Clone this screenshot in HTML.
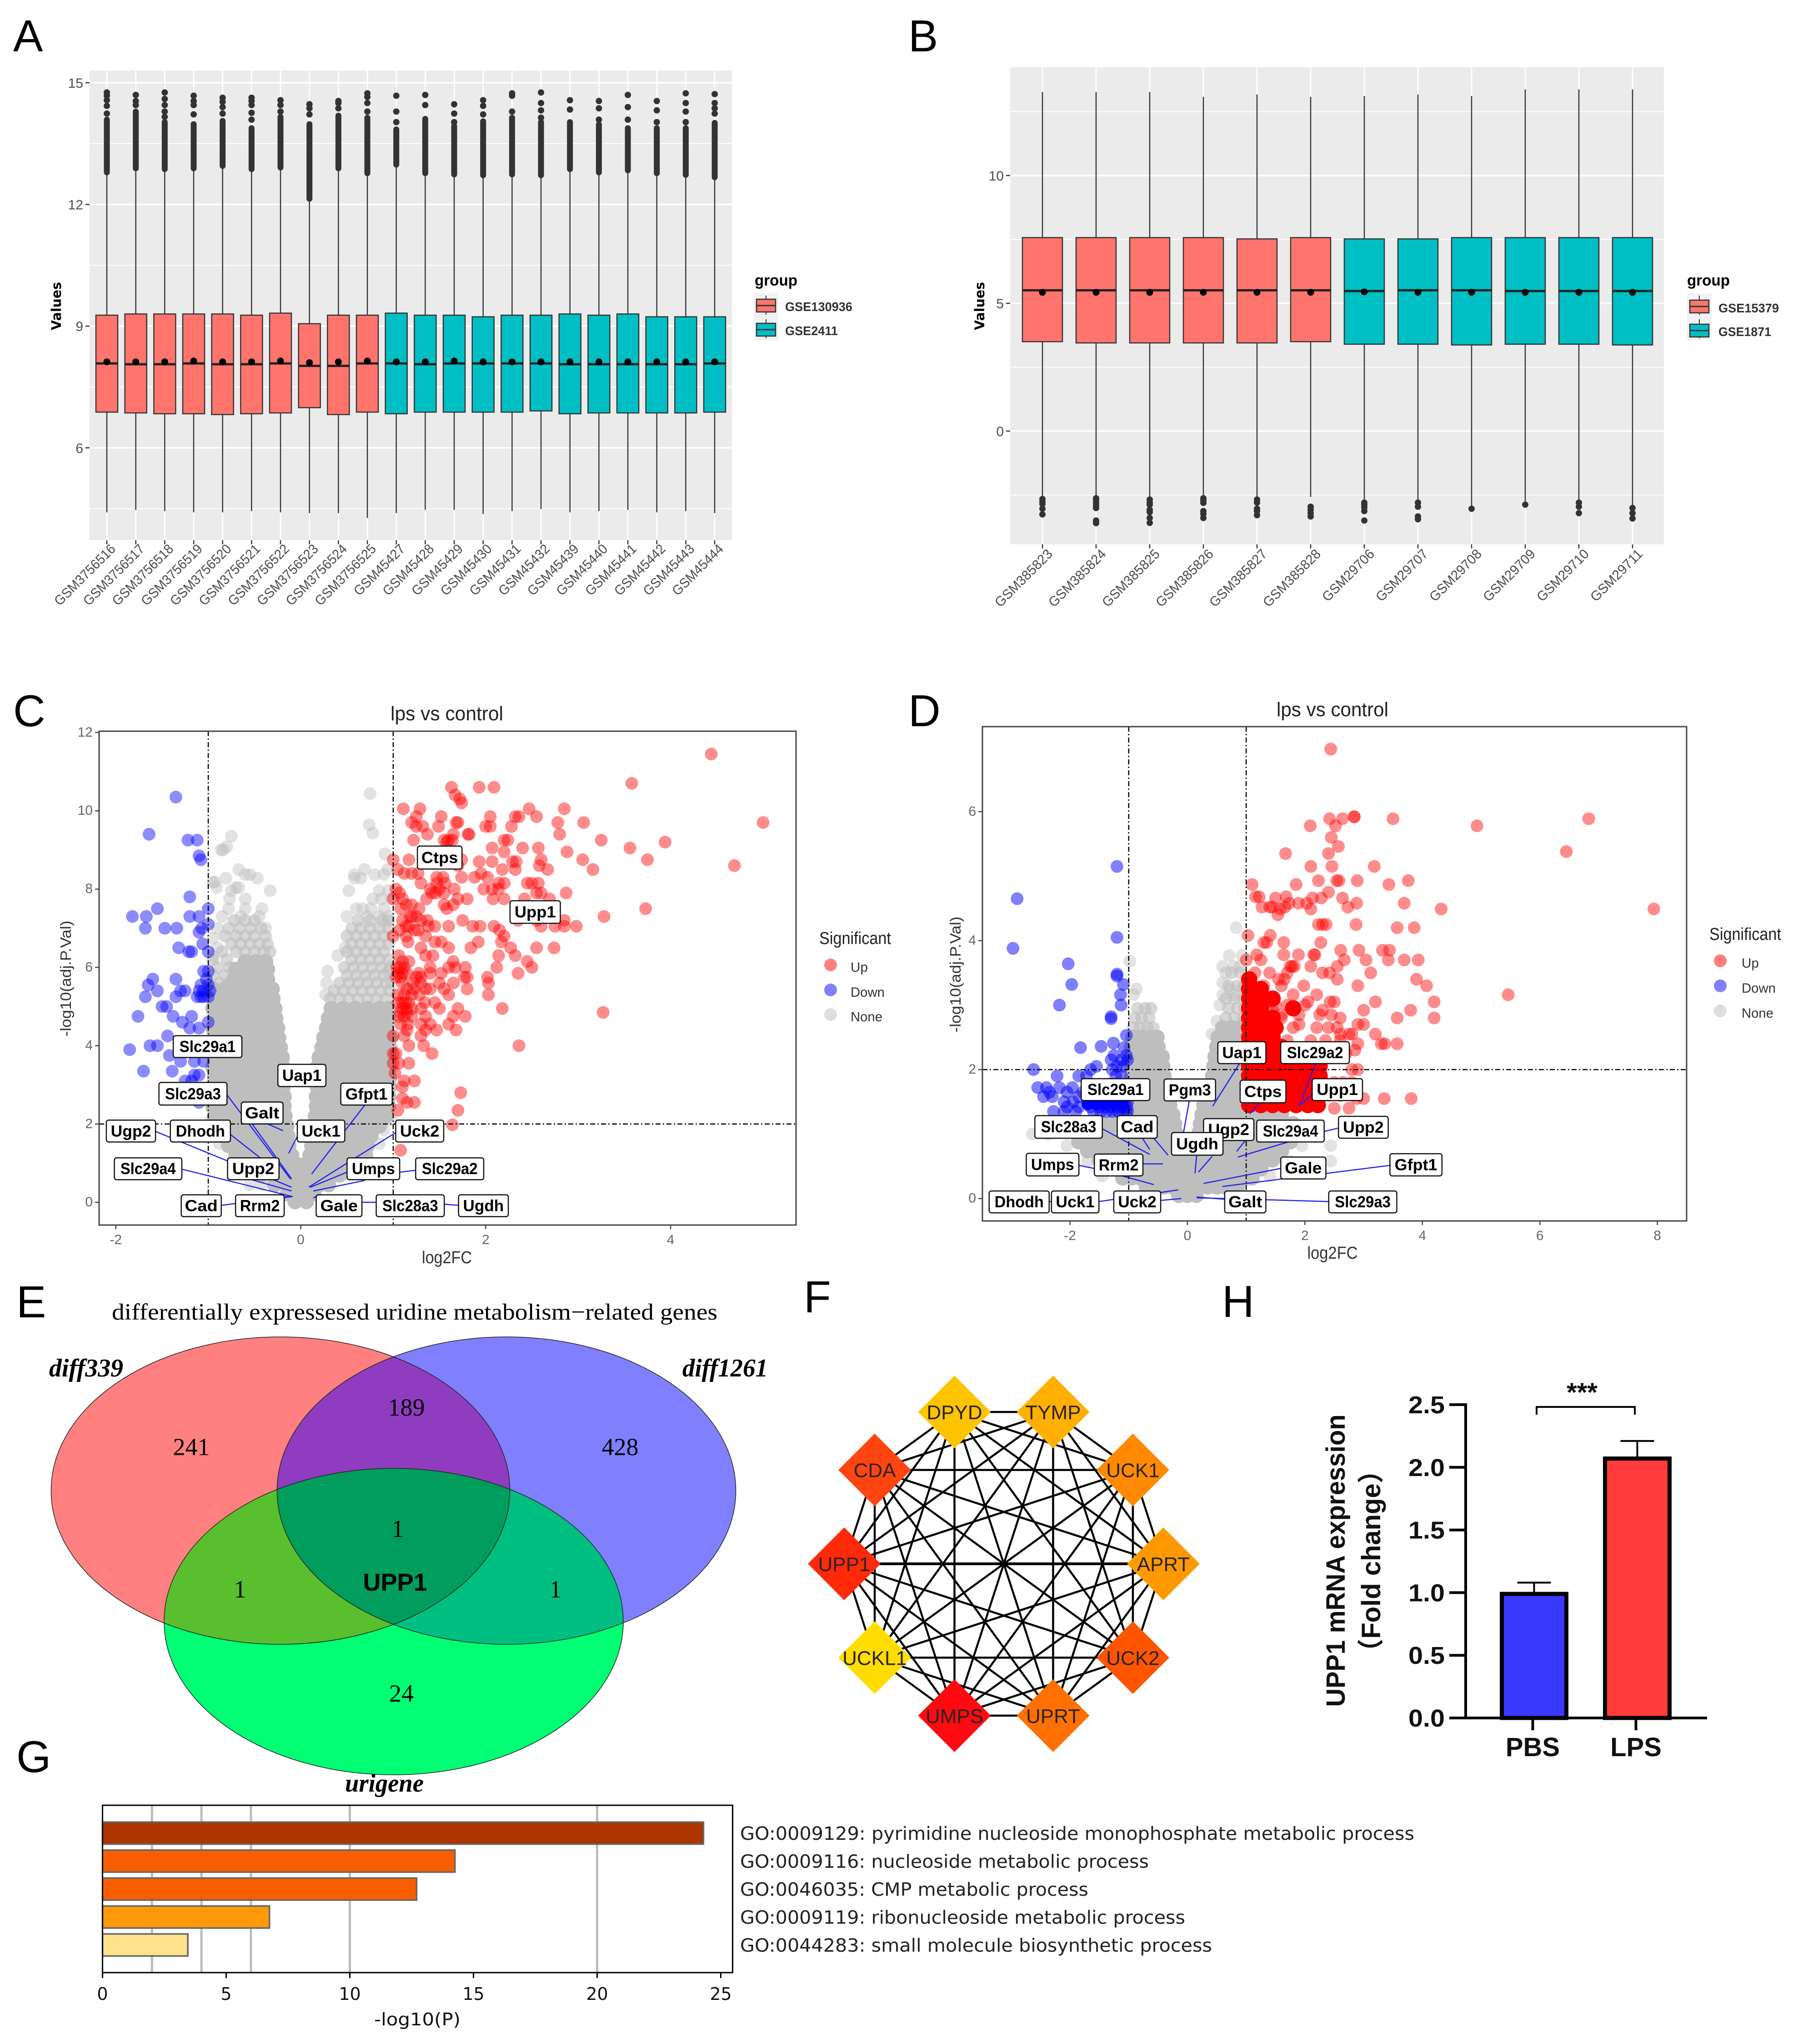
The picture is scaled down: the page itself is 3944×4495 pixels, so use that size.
<!DOCTYPE html>
<html lang="en">
<head>
<meta charset="utf-8">
<title>Uridine metabolism figure panels</title>
<style>
html,body{margin:0;padding:0;background:#fff}
svg{display:block}
text{font-family:"Liberation Sans",sans-serif}
.serif{font-family:"Liberation Serif",serif}
.dj{font-family:"DejaVu Sans",sans-serif}
.letter{font-size:98px;fill:#000}
.leg{fill:#333;font-size:30px}
</style>
</head>
<body>
<svg id="fig" width="3944" height="4495" viewBox="0 0 3944 4495">
<rect width="3944" height="4495" fill="#fff"/>
<text class="letter" x="29" y="113">A</text>
<text class="letter" x="1998" y="113">B</text>
<text class="letter" x="29" y="1597">C</text>
<text class="letter" x="1998" y="1597">D</text>
<text class="letter" x="36" y="2897">E</text>
<text class="letter" x="1768" y="2886">F</text>
<text class="letter" x="36" y="3897">G</text>
<text class="letter" x="2688" y="2896">H</text>

<g id="panelA"></g>
<g id="panelB"></g>
<g id="panelC"></g>
<g id="panelD"></g>

<!-- legends and axis titles A / B -->
<text class="dj" transform="translate(134,673) rotate(-90)" text-anchor="middle" font-size="29" font-weight="bold" textLength="106" lengthAdjust="spacingAndGlyphs">Values</text>
<text class="dj" transform="translate(2165,673) rotate(-90)" text-anchor="middle" font-size="29" font-weight="bold" textLength="106" lengthAdjust="spacingAndGlyphs">Values</text>
<g>
<text x="1660" y="628" font-size="34" font-weight="bold" textLength="94" lengthAdjust="spacingAndGlyphs">group</text>
<rect x="1658" y="645" width="54" height="104" fill="#f2f2f2"/>
<path d="M1685 650V692M1685 702V744" stroke="#333" stroke-width="2"/>
<rect x="1664" y="658" width="42" height="28" fill="#f8766d" stroke="#333" stroke-width="2.5"/>
<rect x="1664" y="711" width="42" height="28" fill="#00bfc4" stroke="#333" stroke-width="2.5"/>
<path d="M1664 672H1706M1664 725H1706" stroke="#333" stroke-width="3"/>
<text x="1727" y="684" font-size="28" font-weight="bold" fill="#333" textLength="148" lengthAdjust="spacingAndGlyphs">GSE130936</text>
<text x="1727" y="737" font-size="28" font-weight="bold" fill="#333" textLength="116" lengthAdjust="spacingAndGlyphs">GSE2411</text>
</g>
<g>
<text x="3711" y="628" font-size="34" font-weight="bold" textLength="94" lengthAdjust="spacingAndGlyphs">group</text>
<rect x="3711" y="645" width="54" height="104" fill="#f2f2f2"/>
<path d="M3738 650V692M3738 702V744" stroke="#333" stroke-width="2"/>
<rect x="3717" y="660" width="42" height="28" fill="#f8766d" stroke="#333" stroke-width="2.5"/>
<rect x="3717" y="713" width="42" height="28" fill="#00bfc4" stroke="#333" stroke-width="2.5"/>
<path d="M3717 674H3759M3717 727H3759" stroke="#333" stroke-width="3"/>
<text x="3780" y="687" font-size="28" font-weight="bold" fill="#333" textLength="133" lengthAdjust="spacingAndGlyphs">GSE15379</text>
<text x="3780" y="739" font-size="28" font-weight="bold" fill="#333" textLength="116" lengthAdjust="spacingAndGlyphs">GSE1871</text>
</g>

<!-- volcano titles & legends -->
<text x="983" y="1584" text-anchor="middle" font-size="44" fill="#222" textLength="248" lengthAdjust="spacingAndGlyphs">lps vs control</text>
<text x="983" y="2778" text-anchor="middle" font-size="38" fill="#333" textLength="110" lengthAdjust="spacingAndGlyphs">log2FC</text>
<text transform="translate(156,2152) rotate(-90)" text-anchor="middle" font-size="33" fill="#333" textLength="255" lengthAdjust="spacingAndGlyphs">-log10(adj.P.Val)</text>
<text x="2931" y="1575" text-anchor="middle" font-size="44" fill="#222" textLength="246" lengthAdjust="spacingAndGlyphs">lps vs control</text>
<text x="2931" y="2768" text-anchor="middle" font-size="38" fill="#333" textLength="111" lengthAdjust="spacingAndGlyphs">log2FC</text>
<text transform="translate(2113,2143) rotate(-90)" text-anchor="middle" font-size="33" fill="#333" textLength="255" lengthAdjust="spacingAndGlyphs">-log10(adj.P.Val)</text>
<g>
<text x="1802" y="2076" font-size="38" fill="#222" textLength="158" lengthAdjust="spacingAndGlyphs">Significant</text>
<circle cx="1827" cy="2122" r="14" fill="#ff0000" opacity=".5"/>
<circle cx="1827" cy="2177" r="14" fill="#0000ff" opacity=".5"/>
<circle cx="1827" cy="2231" r="14" fill="#bebebe" opacity=".5"/>
<text x="1871" y="2137" class="leg" textLength="38" lengthAdjust="spacingAndGlyphs">Up</text>
<text x="1871" y="2192" class="leg" textLength="75" lengthAdjust="spacingAndGlyphs">Down</text>
<text x="1871" y="2246" class="leg" textLength="70" lengthAdjust="spacingAndGlyphs">None</text>
</g>
<g>
<text x="3760" y="2067" font-size="38" fill="#222" textLength="158" lengthAdjust="spacingAndGlyphs">Significant</text>
<circle cx="3784" cy="2113" r="14" fill="#ff0000" opacity=".5"/>
<circle cx="3784" cy="2168" r="14" fill="#0000ff" opacity=".5"/>
<circle cx="3784" cy="2223" r="14" fill="#bebebe" opacity=".5"/>
<text x="3831" y="2128" class="leg" textLength="38" lengthAdjust="spacingAndGlyphs">Up</text>
<text x="3831" y="2183" class="leg" textLength="75" lengthAdjust="spacingAndGlyphs">Down</text>
<text x="3831" y="2238" class="leg" textLength="70" lengthAdjust="spacingAndGlyphs">None</text>
</g>

<!-- Venn E -->
<defs>
<clipPath id="clipL"><ellipse cx="617" cy="3278" rx="504.6" ry="338"/></clipPath>
<clipPath id="clipR"><ellipse cx="1114" cy="3278" rx="504.6" ry="338"/></clipPath>
<clipPath id="clipB"><ellipse cx="866" cy="3566" rx="505" ry="337"/></clipPath>
</defs>
<g>
<text class="serif" x="912" y="2902" text-anchor="middle" font-size="51" textLength="1332" lengthAdjust="spacingAndGlyphs">differentially expressesed uridine metabolism−related genes</text>
<ellipse cx="617" cy="3278" rx="504.6" ry="338" fill="#ff8080"/>
<ellipse cx="1114" cy="3278" rx="504.6" ry="338" fill="#8080ff"/>
<ellipse cx="866" cy="3566" rx="505" ry="337" fill="#00ff73"/>
<g clip-path="url(#clipL)"><ellipse cx="1114" cy="3278" rx="504.6" ry="338" fill="#903cc0"/></g>
<g clip-path="url(#clipL)"><ellipse cx="866" cy="3566" rx="505" ry="337" fill="#5abf2f"/></g>
<g clip-path="url(#clipR)"><ellipse cx="866" cy="3566" rx="505" ry="337" fill="#00bf80"/></g>
<g clip-path="url(#clipL)"><g clip-path="url(#clipR)"><ellipse cx="866" cy="3566" rx="505" ry="337" fill="#009d5c"/></g></g>
<g fill="none" stroke="#222" stroke-width="1.5">
<ellipse cx="617" cy="3278" rx="504.6" ry="338"/>
<ellipse cx="1114" cy="3278" rx="504.6" ry="338"/>
<ellipse cx="866" cy="3566" rx="505" ry="337"/>
</g>
<g class="serif" font-size="54" text-anchor="middle">
<text class="serif" x="421" y="3200">241</text>
<text class="serif" x="894" y="3113">189</text>
<text class="serif" x="1364" y="3200">428</text>
<text class="serif" x="875" y="3380">1</text>
<text class="serif" x="528" y="3513">1</text>
<text class="serif" x="1222" y="3513">1</text>
<text class="serif" x="883" y="3742">24</text>
</g>
<text x="869" y="3498" text-anchor="middle" font-size="54" font-weight="bold">UPP1</text>
<text class="serif" x="108" y="3027" font-size="56" font-weight="bold" font-style="italic" textLength="163" lengthAdjust="spacingAndGlyphs">diff339</text>
<text class="serif" x="1501" y="3027" font-size="56" font-weight="bold" font-style="italic" textLength="188" lengthAdjust="spacingAndGlyphs">diff1261</text>
<text class="serif" x="759" y="3940" font-size="56" font-weight="bold" font-style="italic" textLength="173" lengthAdjust="spacingAndGlyphs">urigene</text>
</g>

<g id="panelF"></g>
<g id="panelG"></g>
<g id="panelH"></g>
</svg>

<script>
/* ---------- panel A data ---------- */
const samplesA = ['GSM3756516','GSM3756517','GSM3756518','GSM3756519','GSM3756520','GSM3756521','GSM3756522','GSM3756523','GSM3756524','GSM3756525','GSM45427','GSM45428','GSM45429','GSM45430','GSM45431','GSM45432','GSM45439','GSM45440','GSM45441','GSM45442','GSM45443','GSM45444'];
const groupA = [0,0,0,0,0,0,0,0,0,0,1,1,1,1,1,1,1,1,1,1,1,1];
const q3A = [9.27,9.30,9.30,9.30,9.30,9.27,9.32,9.06,9.27,9.27,9.32,9.27,9.27,9.23,9.27,9.27,9.30,9.27,9.30,9.23,9.23,9.23];
const q1A = [6.88,6.86,6.84,6.84,6.82,6.84,6.86,6.99,6.82,6.88,6.84,6.88,6.88,6.88,6.88,6.91,6.84,6.86,6.86,6.86,6.86,6.88];
const medianA = [8.08,8.06,8.06,8.08,8.06,8.06,8.08,8.02,8.02,8.08,8.08,8.06,8.08,8.08,8.08,8.08,8.06,8.06,8.06,8.06,8.06,8.08];
const meanA = [8.12,8.12,8.12,8.14,8.12,8.12,8.14,8.10,8.12,8.14,8.12,8.12,8.14,8.12,8.12,8.12,8.12,8.12,8.12,8.12,8.12,8.12];
const whiskerHighA = [12.79,12.89,12.87,12.89,12.95,12.87,12.91,12.14,12.89,12.77,12.98,12.77,12.74,12.72,12.74,12.72,12.87,12.79,12.84,12.77,12.73,12.67];
const whiskerLowA = [4.41,4.47,4.44,4.41,4.41,4.44,4.41,4.39,4.39,4.27,4.39,4.47,4.47,4.37,4.44,4.49,4.41,4.44,4.47,4.41,4.44,4.39];
const outlierDenseTopA = [14.09,14.29,14.03,13.98,14.06,13.88,14.16,13.98,14.19,14.14,13.85,14.11,13.93,14.05,14.14,14.03,14.03,13.97,13.88,13.88,13.88,14.01];
const outliersA = [[14.24,14.43,14.57,14.68,14.76],[14.45,14.55,14.70],[14.16,14.29,14.45,14.60,14.76],[14.22,14.45,14.55,14.68],[14.24,14.40,14.53,14.63],[14.09,14.26,14.45,14.55,14.63],[14.29,14.45,14.57],[14.22,14.37,14.47],[14.37,14.50,14.55],[14.29,14.50,14.65,14.74],[14.03,14.29,14.68],[14.45,14.70],[14.03,14.24,14.47],[14.22,14.43,14.57],[14.29,14.68,14.74],[14.14,14.32,14.50,14.76],[14.34,14.57],[14.09,14.37,14.55],[14.09,14.40,14.70],[14.03,14.32,14.55],[14.03,14.29,14.50,14.74],[14.24,14.37,14.50,14.72]];
const ticksA = [6,9,12,15];
const minorTicksA = [4.5,7.5,10.5,13.5];

/* ---------- panel B data ---------- */
const samplesB = ['GSM385823','GSM385824','GSM385825','GSM385826','GSM385827','GSM385828','GSM29706','GSM29707','GSM29708','GSM29709','GSM29710','GSM29711'];
const groupB = [0,0,0,0,0,0,1,1,1,1,1,1];
const q3B = [7.57,7.57,7.57,7.57,7.52,7.57,7.52,7.52,7.57,7.57,7.57,7.57];
const q1B = [3.50,3.45,3.45,3.45,3.45,3.50,3.40,3.40,3.37,3.40,3.40,3.37];
const medianB = [5.51,5.51,5.51,5.51,5.51,5.51,5.48,5.51,5.51,5.48,5.48,5.48];
const meanB = [5.43,5.43,5.43,5.43,5.43,5.43,5.45,5.43,5.43,5.43,5.43,5.43];
const whiskerHighB = [13.27,13.27,13.27,13.08,13.17,13.08,13.11,13.17,13.11,13.37,13.37,13.37];
const whiskerLowB = [-2.58,-2.55,-2.60,-2.55,-2.58,-2.58,-2.71,-2.68,-2.96,-2.80,-2.68,-2.91];
const outliersB = [[-2.66,-2.76,-2.85,-3.04,-3.26],[-2.63,-2.71,-2.81,-2.91,-3.01,-3.50,-3.60],[-2.68,-2.80,-2.88,-3.08,-3.17,-3.40,-3.59],[-2.63,-2.71,-2.81,-3.13,-3.24,-3.40],[-2.68,-2.80,-3.04,-3.13,-3.29],[-2.96,-3.08,-3.21,-3.34],[-2.80,-2.88,-2.99,-3.13,-3.50],[-2.80,-2.96,-3.34,-3.45],[-3.04],[-2.88],[-2.80,-2.96,-3.21],[-3.01,-3.21,-3.42]];
const ticksB = [0,5,10];
const minorTicksB = [-2.5,2.5,7.5,12.5];

/* ---------- panel C data: rows of [y, [x, x, ...]] ---------- */
const upC = [[11.45,[4.44]],[10.7,[3.58]],[10.6,[1.63,1.93,2.09]],[10.4,[1.67]],[10.3,[1.72]],[10.2,[1.74]],[10.05,[1.11,1.29,2.47,2.85]],[9.85,[1.25,1.52,2.05,2.32,2.36,2.55]],[9.7,[1.7,1.2,2.78,3.06,5.0,1.68]],[9.6,[1.25,1.32,1.49,2.0,2.05,2.28]],[9.4,[1.37,1.82,1.81,2.8,1.65]],[9.25,[1.22,1.55,1.6,1.64,2.2,2.24,3.25]],[9.2,[3.94,1.58]],[9.05,[2.07,3.56,2.4,2.57]],[8.95,[2.2,2.88]],[8.75,[1.0,1.17,1.74,3.05,2.6,3.75]],[8.7,[1.35,1.93,2.07,2.29,2.33]],[8.6,[2.58,1.7,4.69]],[8.5,[2.18,2.67,3.16,1.05,2.32]],[8.4,[1.12,1.2,1.27,1.95]],[8.3,[1.54,1.74,1.88,2.02,1.47]],[8.15,[2.2,2.45,2.5,2.57,1.3,1.47,1.56,2.14]],[8.0,[1.03,1.4,1.5,1.66,1.98,2.07,2.14]],[7.9,[1.07,1.42,1.46,2.87,1.55,2.55,2.6]],[7.75,[1.0,1.1,1.36,1.8,2.08,2.2,2.42,2.69,1.7]],[7.6,[1.14,1.55,1.65,1.2]],[7.5,[1.28,1.58,3.73,1.08]],[7.3,[1.2,1.18,1.25,3.28]],[7.2,[1.1,1.3,1.37,1.75,2.35,2.55,2.85]],[7.05,[1.14,1.17,1.38,1.45,1.6,1.86,1.94,2.09,2.6,2.75,2.85,2.98]],[6.95,[1.07,1.23,1.27,2.15]],[6.8,[1.0,1.35,1.14,2.2]],[6.65,[1.16,1.45,1.52,1.92,2.17]],[6.5,[1.3,1.6,1.84,2.27,2.55,2.74]],[6.3,[1.06,1.35,1.43,2.14,2.32]],[6.15,[1.1,1.17,1.65,2.45]],[6.0,[1.07,1.12,1.04,1.4,1.6,1.67,1.78,2.12,2.5]],[5.85,[1.05,1.1,1.15,1.28,1.4,2.35,1.52]],[5.75,[1.03,1.08,1.25,1.3,1.77,1.8,2.02]],[5.6,[1.1,1.22,1.3,1.5,1.65,2.03]],[5.45,[1.15,1.22,1.35,1.4,1.55,1.8]],[5.3,[1.12,1.2,1.05,1.28,1.6,2.03]],[5.1,[1.05,1.1,1.17,1.13,1.34,1.45]],[4.95,[1.1,1.14,1.2,1.3,1.5,1.7,2.18]],[4.85,[3.27,1.08,1.15]],[4.75,[1.06,1.12,1.2,1.35,1.65,1.78]],[4.55,[1.08,1.16,1.3,1.4,1.6]],[4.4,[1.15,1.35,1.47,1.68]],[4.25,[1.0,1.12,1.3]],[4.0,[1.17,1.33,2.36]],[3.8,[1.0,1.03,1.42]],[3.55,[1.0,1.06,1.17]],[3.3,[1.02]],[3.1,[1.12,1.23]],[2.95,[1.1]],[2.8,[1.73]],[2.65,[1.1]],[2.55,[1.15,1.23]],[2.35,[1.05,1.7]],[1.98,[1.64]],[1.33,[1.08]]];
const downC = [[10.35,[-1.35]],[9.4,[-1.64]],[9.25,[-1.22,-1.12]],[8.85,[-1.1]],[8.75,[-1.08]],[7.8,[-1.2]],[7.5,[-1.55,-1.0]],[7.3,[-1.82,-1.67,-1.2,-1.1]],[7.1,[-1.0]],[7.0,[-1.34,-1.07,-1.68,-1.47]],[6.9,[-1.1]],[6.6,[-1.06]],[6.5,[-1.32]],[6.4,[-1.21,-1.18,-1.0]],[5.9,[-1.05,-1.0]],[5.7,[-1.6,-1.02,-1.35]],[5.55,[-1.65,-1.08,-1.0]],[5.4,[-1.55,-1.3,-1.25,-1.1,-1.05,-.98]],[5.25,[-1.68,-1.35,-1.12,-1.0,-1.05,-1.08]],[5.0,[-1.5,-1.45]],[4.75,[-1.76,-1.38,-1.18]],[4.6,[-1.0,-1.28]],[4.45,[-1.2,-1.1]],[4.25,[-1.44]],[4.0,[-1.63,-1.55]],[3.9,[-1.85]],[3.75,[-1.42]],[3.6,[-1.3,-1.15,-1.05]],[3.35,[-1.7,-1.39]],[3.25,[-1.15,-1.1]],[3.1,[-1.25,-1.18]],[2.9,[-1.1]],[2.55,[-1.1]]];
const noneCoreC = [[.02,[-.06,.06]],[.22,[-.14,0,.14]],[.45,[-.28,-.16,-.04,.08,.2,.3]],[.7,[-.42,-.3,-.18,-.06,.06,.18,.3,.42]],[.95,[-.6,-.48,-.36,-.24,-.12,-.02,.06,.18,.3,.42,.54,.62]],[1.2,[-.7,-.57,-.44,-.31,-.18,-.1,.1,.2,.33,.46,.59,.7]],[1.45,[-.78,-.65,-.52,-.39,-.26,-.13,.12,.24,.37,.5,.63,.72]],[1.7,[-.84,-.71,-.58,-.45,-.32,-.19,-.14,.13,.25,.38,.51,.64,.76]],[1.95,[-.9,-.77,-.64,-.51,-.38,-.25,-.15,.14,.27,.4,.53,.66,.79,.85]],[2.2,[-.93,-.8,-.67,-.54,-.41,-.28,-.17,.16,.29,.42,.55,.68,.81,.92]],[2.45,[-.95,-.82,-.69,-.56,-.43,-.3,-.18,.17,.3,.43,.56,.69,.82,.95]],[2.7,[-.93,-.8,-.67,-.54,-.41,-.28,-.18,.17,.3,.43,.56,.69,.82,.95]],[2.95,[-.95,-.82,-.69,-.56,-.43,-.3,-.19,.18,.31,.44,.57,.7,.83,.96]],[3.2,[-.93,-.8,-.67,-.54,-.41,-.28,-.19,.18,.31,.44,.57,.7,.83,.96]],[3.45,[-.95,-.82,-.69,-.56,-.43,-.3,-.19,.18,.31,.44,.57,.7,.83,.96]],[3.7,[-.93,-.8,-.67,-.54,-.41,-.3,-.2,.2,.33,.46,.59,.72,.85,.96]],[3.95,[-.95,-.82,-.69,-.56,-.43,-.32,-.22,.23,.36,.49,.62,.75,.88,.96]],[4.2,[-.93,-.8,-.67,-.54,-.41,-.32,-.24,.25,.38,.51,.64,.77,.9,.97]],[4.45,[-.95,-.82,-.69,-.56,-.43,-.33,-.25,.28,.41,.54,.67,.8,.93]],[4.7,[-.93,-.8,-.67,-.54,-.41,-.33,-.27,.3,.43,.56,.69,.82,.95]],[4.95,[-.95,-.82,-.69,-.56,-.43,-.35,-.28,.33,.46,.59,.72,.85,.95]],[5.2,[-.93,-.8,-.67,-.54,-.41,-.3]],[5.45,[-.95,-.82,-.69,-.56,-.43,-.31]],[5.7,[-.72,-.6,-.48,-.36]],[5.95,[-.7,-.58,-.46,-.36]],[6.15,[-.6,-.48,-.38]]];
const noneMidC = [[7.2,[-.72,-.6,-.5,.62,.75,.88,.95]],[7.0,[-.78,-.66,-.54,-.43,.55,.65,.75,.85,.95]],[6.8,[-.82,-.7,-.6,-.5,-.38,.5,.6,.7,.8,.9]],[6.6,[-.75,-.65,-.55,-.45,-.36,.55,.65,.75,.85,.95]],[6.4,[-.85,-.7,-.6,-.5,-.4,-.33,.5,.6,.7,.8,.9]],[6.2,[-.95,-.8,.55,.65,.75,.85,.95]],[6.0,[-.9,-.77,.47,.57,.67,.77,.87,.97]],[5.8,[-.95,-.82,.5,.6,.7,.8,.9]],[5.6,[-.88,-.78,.42,.52,.62,.72,.82,.92]],[5.4,[.36,.46,.56,.66,.76,.86,.96]],[5.2,[.32,.42,.52,.62,.72,.82,.92]]];
const noneC = [[10.44,[.75]],[9.64,[.74]],[9.43,[.78]],[9.35,[-.75]],[9.08,[-.8]],[9,[-.86,-.84]],[8.9,[.91]],[8.5,[-.67,.69,.94]],[8.37,[-.55,-.6,.58,.8,.9]],[8.28,[-.47,-.81,.58,.65]],[8.18,[-.93,-.95]],[8.04,[-.91,-.7,-.67]],[7.96,[-.33,.52,-.75,.85,.95]],[7.75,[-.77,-.6,.87,.78,.98]],[7.5,[-.6,-.78,-.42,.6,.67,.76,.9]],[7.3,[-.65,-.85,-.45,.5,.72,.85,.95]],[7,[-.9,-.38]],[6.75,[-.95]],[6.5,[-.9,.48]],[6.3,[-.95,.4]],[5.9,[.29,.95]],[5.6,[.28,.98]],[5.3,[.27]],[2.35,[.8,.9]],[2.1,[-.97,.7,.98]],[1.85,[.78,.9,-.92]],[1.5,[.85,-.88]],[.75,[-.68,-.5]],[.45,[-.42,-.55]]];
const ticksXC = [-2,0,2,4];
const ticksYC = [0,2,4,6,8,10,12];

/* ---------- panel D data ---------- */
const upD = [[6.97,[2.44]],[5.92,[2.84,2.84]],[5.89,[2.64,3.5,6.83,2.42]],[5.78,[4.93,2.09,2.52]],[5.6,[2.45]],[5.46,[2.57]],[5.38,[6.45]],[5.35,[1.67,2.4]],[5.15,[2.1,2.46,3.18]],[4.93,[2.54,2.58,2.23,2.89,3.76]],[4.87,[3.43,1.1,1.85]],[4.75,[2.4]],[4.68,[1.68,1.16,1.22]],[4.66,[2.64,2.28,2.13,1.5]],[4.58,[3.69,2.88,1.73,1.89,2.03]],[4.52,[1.27,1.4,1.45,2.73,1.66]],[4.49,[4.32,7.94,1.58,2.1]],[4.4,[1.54]],[4.25,[2.23,2.3,2.36,2.87]],[4.2,[3.57,3.86]],[4.08,[1.03,1.41]],[3.97,[1.35,1.3,1.64,2.27]],[3.85,[3.32,3.44,2.61,2.92]],[3.78,[1.89,2.17,2.15,1.64,1.18]],[3.7,[1.25,1.0,3.42,3.69,3.93,3.04,2.67]],[3.6,[1.82,1.78,1.75,2.55,2.1]],[3.5,[3.12,1.7,2.3,2.42,1.15,1.4]],[3.4,[3.9,2.55,1.55,1.65]],[3.3,[4.07,2.9,1.98,1.3,1.6]],[3.16,[5.46,1.27,1.08,2.2,1.8]],[3.05,[2.43,2.5,3.2,4.2,2.05]],[3.0,[1.1,1.3,1.5,1.7,2.0]],[2.92,[3.0,3.8,1.45,2.3]],[2.85,[1.2,1.6,1.9,2.25,2.45]],[2.8,[4.2,3.57,1.6,2.6]],[2.7,[2.9,3.0,1.9]],[2.65,[1.1,1.4,1.8,2.2,2.4,2.55]],[2.55,[3.2,2.8,2.75,2.6,1.4]],[2.45,[1.3,1.7,2.1,2.35,2.6]],[2.4,[3.36,3.57,3.3,2.9]],[2.3,[2.85]],[2.25,[1.2,1.5,2.0,2.4,2.7]],[2.0,[2.8,2.9]],[1.8,[2.5,2.65,2.8]],[1.6,[2.4,2.6]],[1.55,[3.35,3.81,3.0,2.88]],[1.4,[2.75,2.5]]];
const upCoreD = [[1.45,[1.05,1.25,1.45,1.65,1.85,2.05,2.22]],[1.6,[1.05,1.25,1.45,1.65,1.85,2.05,2.25]],[1.75,[1.05,1.25,1.45,1.65,1.85,2.05,2.25]],[1.9,[1.05,1.25,1.45,1.65,1.85,2.05,2.25]],[2.05,[1.05,1.25,1.45,1.65,1.85,2.05,2.25]],[2.2,[1.05,1.25,1.45,1.65,2.05]],[2.35,[1.05,1.25,1.45,1.6]],[2.5,[1.05,1.25,1.45]],[2.65,[1.05,1.25,1.5]],[2.8,[1.05,1.25,1.45]],[2.95,[1.05,1.25,1.8]],[3.1,[1.05,1.2,1.45]],[3.25,[1.05,1.25]],[3.4,[1.05]]];
const downD = [[5.15,[-1.2]],[4.65,[-2.9]],[4.05,[-1.2]],[3.88,[-2.97]],[3.64,[-2.03]],[3.48,[-1.2]],[3.45,[-1.2]],[3.32,[-1.97,-1.09]],[3.16,[-1.14]],[3.0,[-2.18,-1.13]],[2.82,[-1.3]],[2.79,[-1.3]],[2.53,[-1.04]],[2.41,[-1.26]],[2.36,[-1.47]],[2.34,[-1.82,-1.08]],[2.22,[-1.25,-1.04]],[2.15,[-1.12,-1.3,-1.02]],[2.05,[-1.55,-1.1,-1.2]],[2.0,[-2.62,-1.65,-1.28]],[1.9,[-2.22,-1.72,-1.85,-1.22,-1.12]],[1.72,[-2.55,-2.4,-2.18,-1.96,-1.12,-1.05]],[1.65,[-2.35,-2.05,-1.78,-1.55,-1.35,-1.2,-1.08]],[1.58,[-2.3,-2.45,-1.85,-1.62,-1.48,-1.28,-1.15,-1.03]],[1.5,[-2.1,-1.95,-1.7,-1.55,-1.42,-1.3,-1.2,-1.1,-1.02]],[1.42,[-2.05,-1.85,-1.65,-1.5,-1.4,-1.3,-1.2,-1.1,-1.03]],[1.35,[-2.28,-2.1,-1.9,-1.6,-1.48,-1.38,-1.28,-1.18,-1.08,-1.02]]];
const downCoreD = [[1.46,[-1.1,-1.25,-1.4,-1.55,-1.7]]];
const noneCoreD = [[.05,[-.15,0,.15]],[.18,[-.7,-.55,-.4,-.25,-.1,.05,.2,.35,.5,.65,.85]],[.32,[-1.1,-.95,-.8,-.65,-.5,-.35,-.2,-.05,.1,.25,.4,.55,.7,.85,1.0,1.1]],[.46,[-1.3,-1.15,-1.0,-.85,-.7,-.55,-.4,-.25,-.1,.05,.2,.35,.5,.65,.8,.95,1.1,1.25]],[.6,[-1.5,-1.35,-1.2,-1.05,-.9,-.75,-.6,-.45,-.3,-.15,0,.15,.3,.45,.6,.75,.9,1.05,1.2,1.35,1.45]],[.74,[-1.7,-1.55,-1.4,-1.25,-1.1,-.95,-.8,-.65,-.5,-.35,-.18,.18,.35,.5,.65,.8,.95,1.1,1.25,1.4,1.6]],[.88,[-1.85,-1.7,-1.55,-1.4,-1.25,-1.1,-.95,-.8,-.65,-.5,-.35,-.18,.18,.35,.5,.65,.8,.95,1.1,1.25,1.4,1.55,1.75]],[1.02,[-1.9,-1.75,-1.6,-1.45,-1.3,-1.15,-1.0,-.85,-.7,-.55,-.4,-.2,.2,.4,.55,.7,.85,1.0,1.15,1.3,1.45,1.6,1.75,1.9]],[1.16,[-1.6,-1.45,-1.3,-1.15,-1.0,-.85,-.7,-.55,-.4,-.22,.22,.4,.55,.7,.85,1.0,1.15,1.3,1.45,1.6,1.8]],[1.3,[-1.2,-1.05,-.9,-.75,-.6,-.45,-.25,.25,.45,.6,.75,.9,1.05,1.2,1.4,1.6]],[1.45,[-.95,-.8,-.65,-.5,-.3,.28,.45,.6,.75,.9]],[1.6,[-.95,-.8,-.65,-.5,-.33,.3,.45,.6,.75,.9]],[1.75,[-.95,-.8,-.65,-.5,-.37,.38,.5,.65,.8,.95]],[1.9,[-.95,-.8,-.65,-.5,-.4,.43,.55,.7,.85,.95]],[2.05,[-.95,-.8,-.65,-.5,-.42,.45,.6,.75,.9]],[2.2,[-.95,-.8,-.65,-.52,-.43,.47,.6,.75,.9]],[2.35,[-.95,-.8,-.65,-.5,.5,.65,.8,.95]],[2.5,[-.93,-.78,-.63,-.52,.52,.65,.8,.95]],[2.65,[.6,.75,.9]]];
const noneMidD = [[2.65,[-.92,-.8,-.68,-.58]],[2.8,[-.9,-.78,-.65,.65,.8,.95]],[2.95,[-.85,-.72,-.62,.7,.85,.97]],[3.1,[.65,.8,.95]],[3.3,[.7,.85,.97]],[3.5,[.75,.9]]];
const noneD = [[4.2,[.83]],[3.77,[.71,.93]],[3.68,[-.98]],[3.6,[.6,.79,.9]],[3.5,[.65]],[3.35,[.6]],[3.25,[-.87,.72,.93]],[3.16,[-.92,.6,.8]],[3,[.55]],[2.75,[.5]],[2.55,[.42]],[1.0,[-2.64,-2.37,2.05]],[.82,[-2.05,1.95,2.44]],[.58,[2.44,1.75,-1.7]],[.35,[-1.45,1.4]]];
const ticksXD = [-2,0,2,4,6,8];
const ticksYD = [0,2,4,6];

/* ---------- panel F data ---------- */
const networkGenes = ['DPYD','TYMP','UCK1','APRT','UCK2','UPRT','UMPS','UCKL1','UPP1','CDA'];
const networkColors = ['#ffc400','#ffb000','#ff8a00','#ff9900','#ff5500','#ff7000','#ff0a10','#ffdd00','#ff2a0a','#ff4510'];

/* ---------- panel G data ---------- */
const goTerms = ['GO:0009129: pyrimidine nucleoside monophosphate metabolic process','GO:0009116: nucleoside metabolic process','GO:0046035: CMP metabolic process','GO:0009119: ribonucleoside metabolic process','GO:0044283: small molecule biosynthetic process'];
const goValues = [24.3,14.25,12.7,6.75,3.45];
const goColors = ['#ae3400','#f85e00','#f85e00','#fe9a0a','#ffe28a'];
const goLabelWidths = [1483,899,766,979,1038];
const goGrid = [2,4,6,10,20];
const goTicks = [0,5,10,15,20,25];

/* ---------- panel H data ---------- */
const hCategories = ['PBS','LPS'];
const hMeans = [0.99,2.07];
const hErrors = [0.09,0.14];
const hColors = ['#3a3aff','#ff3c3c'];
const hTicks = ['0.0','0.5','1.0','1.5','2.0','2.5'];

/* ---------- helpers ---------- */
const NS = 'http://www.w3.org/2000/svg';
function mk(tag, attrs, parent, text) {
  const e = document.createElementNS(NS, tag);
  for (const k in attrs) e.setAttribute(k, attrs[k]);
  if (text !== undefined) e.textContent = text;
  parent.appendChild(e);
  return e;
}

/* ---------- boxplots ---------- */
function drawBoxPanel(g, o) {
  const bg = mk('rect', {x:o.x0, y:o.y0, width:o.x1-o.x0, height:o.y1-o.y0, fill:'#ebebeb'}, g);
  
  
  o.minor.forEach(v => {
    const l = mk('line', {x1:o.x0, x2:o.x1, y1:o.y(v), y2:o.y(v), stroke:'#fff', 'stroke-width':2}, g);
    
    
  });
  o.ticks.forEach(v => {
    const l = mk('line', {x1:o.x0, x2:o.x1, y1:o.y(v), y2:o.y(v), stroke:'#fff', 'stroke-width':3.5}, g);
    
    
    const t = mk('line', {x1:o.x0-9, x2:o.x0, y1:o.y(v), y2:o.y(v), stroke:'#333', 'stroke-width':2.5}, g);
    
    
    const lb = mk('text', {x:o.x0-14, y:o.y(v)+11, 'text-anchor':'end', 'font-size':30, fill:'#4d4d4d'}, g, String(v));
    
    
  });
  o.samples.forEach((s, i) => {
    const cx = o.x(i);
    const gl = mk('line', {x1:cx, x2:cx, y1:o.y0, y2:o.y1, stroke:'#fff', 'stroke-width':3}, g);
    
    
    const tk = mk('line', {x1:cx, x2:cx, y1:o.y1, y2:o.y1+9, stroke:'#333', 'stroke-width':2.5}, g);
    
    
    const ax = cx + o.labelDx, ay = o.labelY;
    const lb = mk('text', {x:ax, y:ay, 'text-anchor':'end', 'font-size':30, fill:'#4d4d4d', transform:`rotate(-45 ${ax} ${ay})`, textLength:o.labelLen(s), lengthAdjust:'spacingAndGlyphs'}, g, s);
    
    
  });
  o.samples.forEach((s, i) => {
    const cx = o.x(i);
    const wh = mk('line', {x1:cx, x2:cx, y1:o.y(o.whiskerHigh[i]), y2:o.y(o.whiskerLow[i]), stroke:'#333', 'stroke-width':2.5}, g);
    
    
    if (o.denseTop) {
      const d = mk('line', {x1:cx, x2:cx, y1:o.y(o.whiskerHigh[i]), y2:o.y(o.denseTop[i]), stroke:'#333', 'stroke-width':13, 'stroke-linecap':'round'}, g);
      
      
    }
    o.outliers[i].forEach(v => {
      const c = mk('circle', {cx:cx, cy:o.y(v), r:7, fill:'#333'}, g);
      
      
    });
    const top = o.y(o.q3[i]), bot = o.y(o.q1[i]);
    const b = mk('rect', {x:cx-o.bw/2, y:top, width:o.bw, height:bot-top, fill:o.group[i]?'#00bfc4':'#ff756d', stroke:'#333', 'stroke-width':2.5}, g);
    
    
    const m = mk('line', {x1:cx-o.bw/2, x2:cx+o.bw/2, y1:o.y(o.median[i]), y2:o.y(o.median[i]), stroke:'#222', 'stroke-width':5}, g);
    
    
    const mean = mk('circle', {cx:cx, cy:o.y(o.mean[i]), r:7.5, fill:'#000'}, g);
    
    
  });
}
const yScaleA = v => 182 + (15 - v) * 89.2;
const xScaleA = i => 235 + i * 63.67;
drawBoxPanel(document.getElementById('panelA'), {
  x0:197, x1:1610, y0:155, y1:1188, y:yScaleA, x:xScaleA, ticks:ticksA, minor:minorTicksA,
  samples:samplesA, group:groupA, q1:q1A, q3:q3A, median:medianA, mean:meanA,
  whiskerHigh:whiskerHighA, whiskerLow:whiskerLowA, denseTop:outlierDenseTopA, outliers:outliersA,
  bw:48, labelDx:21, labelY:1209, labelLen:s => s.length > 8 ? 176 : 145
});
const yScaleB = v => 948 - v * 56.2;
const xScaleB = i => 2293 + i * 118;
drawBoxPanel(document.getElementById('panelB'), {
  x0:2222, x1:3660, y0:148, y1:1197, y:yScaleB, x:xScaleB, ticks:ticksB, minor:minorTicksB,
  samples:samplesB, group:groupB, q1:q1B, q3:q3B, median:medianB, mean:meanB,
  whiskerHigh:whiskerHighB, whiskerLow:whiskerLowB, denseTop:null, outliers:outliersB,
  bw:88, labelDx:24, labelY:1220, labelLen:s => s.length > 8 ? 165 : 148
});

/* ---------- volcanoes ---------- */
function drawRows(g, rows, xf, yf, fill, opacity, r, name) {
  rows.forEach(row => {
    row[1].forEach(xv => {
      const c = mk('circle', {cx:xf(xv), cy:yf(row[0]), r:r, fill:fill, opacity:opacity}, g);
      
      
    });
  });
}
function drawVolcanoFrame(g, o) {
  const bg = mk('rect', {x:o.x0, y:o.y0, width:o.x1-o.x0, height:o.y1-o.y0, fill:'#fff'}, g);
  
  
}
function drawVolcanoAxes(g, o) {
  [-1,1].forEach(v => {
    const l = mk('line', {x1:o.x(v), x2:o.x(v), y1:o.y0, y2:o.y1, stroke:'#000', 'stroke-width':2.5, 'stroke-dasharray':'11 5 3 5'}, g);
    
    
  });
  const h = mk('line', {x1:o.x0, x2:o.x1, y1:o.y(2), y2:o.y(2), stroke:'#000', 'stroke-width':2.5, 'stroke-dasharray':'11 5 3 5'}, g);
  
  
  const f = mk('rect', {x:o.x0, y:o.y0, width:o.x1-o.x0, height:o.y1-o.y0, fill:'none', stroke:'#444', 'stroke-width':3}, g);
  
  
  o.xt.forEach(v => {
    const t = mk('line', {x1:o.x(v), x2:o.x(v), y1:o.y1, y2:o.y1+9, stroke:'#444', 'stroke-width':2.5}, g);
    
    
    const lb = mk('text', {x:o.x(v), y:o.y1+42, 'text-anchor':'middle', 'font-size':30, fill:'#666'}, g, String(v));
    
    
  });
  o.yt.forEach(v => {
    const t = mk('line', {x1:o.x0-9, x2:o.x0, y1:o.y(v), y2:o.y(v), stroke:'#444', 'stroke-width':2.5}, g);
    
    
    const lb = mk('text', {x:o.x0-14, y:o.y(v)+9, 'text-anchor':'end', 'font-size':30, fill:'#666'}, g, String(v));
    
    
  });
}
function wire(g, ox, a, b, c, d) {
  const l = mk('line', {x1:ox+a*1.2577, y1:1500+b*.829, x2:ox+c*1.2577, y2:1500+d*.829, stroke:'#2222ee', 'stroke-width':2.5}, g);
  
  
}
function geneLabel(g, ox, name, a, b, c, d) {
  const x = ox+a*1.2577, w = (b-a)*1.2577, y = 1500+c*.829, h = (d-c)*.829;
  const r = mk('rect', {x:x, y:y, width:w, height:h, rx:5, fill:'#fff', stroke:'#111', 'stroke-width':2.5}, g);
  
  
  const t = mk('text', {x:x+w/2, y:y+h/2+12, 'text-anchor':'middle', 'font-size':35, 'font-weight':'bold', fill:'#000', textLength:w*.82, lengthAdjust:'spacingAndGlyphs'}, g, name);
  
  
}
/* panel C */
const xScaleC = v => 661.5 + 203.4 * v;
const yScaleC = v => 2644 - 86.1 * v;
const gC = document.getElementById('panelC');
const optC = {x0:218, x1:1751, y0:1608, y1:2694, x:xScaleC, y:yScaleC, xt:ticksXC, yt:ticksYC};
drawVolcanoFrame(gC, optC);
drawRows(gC, noneC, xScaleC, yScaleC, '#bebebe', .45, 14, 'point-none');
drawRows(gC, noneMidC, xScaleC, yScaleC, '#bebebe', .6, 14, 'point-none');
drawRows(gC, noneCoreC, xScaleC, yScaleC, '#bebebe', 1, 17, 'point-none');
drawRows(gC, upC, xScaleC, yScaleC, '#ff0000', .45, 14, 'point-up');
drawRows(gC, downC, xScaleC, yScaleC, '#0000ff', .45, 14, 'point-down');
drawVolcanoAxes(gC, optC);
[[397,1095,508,1318],[440,1170,510,1318],[468,1172,495,1190],[272,1192,510,1340],[403,1200,455,1262],[520,1205,505,1250],[638,1122,545,1305],[692,1195,540,1340],[318,1292,512,1365],[440,1320,510,1350],[607,1300,543,1340],[638,1322,548,1350],[727,1295,700,1300],[387,1388,510,1365],[497,1365,510,1365],[553,1365,548,1368],[658,1380,633,1380],[802,1388,777,1385]].forEach(w => wire(gC, 0, w[0], w[1], w[2], w[3]));
geneLabel(gC,0,'Ctps',730,808,435,496);
geneLabel(gC,0,'Upp1',892,980,580,640);
geneLabel(gC,0,'Slc29a1',303,423,938,996);
geneLabel(gC,0,'Uap1',486,570,1014,1073);
geneLabel(gC,0,'Slc29a3',278,397,1062,1122);
geneLabel(gC,0,'Gfpt1',596,686,1064,1122);
geneLabel(gC,0,'Galt',422,495,1114,1172);
geneLabel(gC,0,'Ugp2',186,272,1162,1220);
geneLabel(gC,0,'Dhodh',298,403,1162,1220);
geneLabel(gC,0,'Uck1',520,603,1162,1220);
geneLabel(gC,0,'Uck2',692,776,1162,1220);
geneLabel(gC,0,'Slc29a4',200,318,1262,1320);
geneLabel(gC,0,'Upp2',398,488,1262,1320);
geneLabel(gC,0,'Umps',607,699,1262,1320);
geneLabel(gC,0,'Slc29a2',727,846,1262,1320);
geneLabel(gC,0,'Cad',317,387,1360,1418);
geneLabel(gC,0,'Rrm2',412,497,1360,1418);
geneLabel(gC,0,'Gale',553,633,1360,1418);
geneLabel(gC,0,'Slc28a3',658,777,1360,1418);
geneLabel(gC,0,'Ugdh',802,889,1360,1418);

/* panel D */
const xScaleD = v => 2612 + 129.2 * v;
const yScaleD = v => 2635.7 - 141.8 * v;
const gD = document.getElementById('panelD');
const optD = {x0:2161, x1:3710, y0:1598, y1:2685, x:xScaleD, y:yScaleD, xt:ticksXD, yt:ticksYD};
drawVolcanoFrame(gD, optD);
drawRows(gD, noneD, xScaleD, yScaleD, '#bebebe', .45, 14, 'point-none');
drawRows(gD, noneMidD, xScaleD, yScaleD, '#bebebe', .6, 14, 'point-none');
drawRows(gD, noneCoreD, xScaleD, yScaleD, '#bebebe', 1, 17, 'point-none');
drawRows(gD, upCoreD, xScaleD, yScaleD, '#ff0000', 1, 18, 'point-up');
drawRows(gD, upD, xScaleD, yScaleD, '#ff0000', .45, 14, 'point-up');
drawRows(gD, downCoreD, xScaleD, yScaleD, '#0000ff', 1, 13, 'point-down');
drawRows(gD, downD, xScaleD, yScaleD, '#0000ff', .5, 14, 'point-down');
drawVolcanoAxes(gD, optD);
[[600,1012,553,1125],[733,1012,705,1122],[405,1110,412,1150],[512,1111,502,1195],[635,1116,618,1145],[727,1095,703,1125],[360,1185,443,1253],[430,1210,443,1240],[450,1210,475,1255],[610,1216,595,1245],[685,1220,597,1260],[773,1183,748,1192],[525,1255,522,1303],[552,1258,528,1300],[319,1282,345,1290],[431,1278,466,1278],[395,1310,450,1333],[672,1290,537,1330],[863,1282,570,1338],[354,1378,493,1347],[267,1378,270,1378],[462,1375,498,1370],[574,1372,525,1366],[756,1378,525,1368]].forEach(w => wire(gD, 1972, w[0], w[1], w[2], w[3]));
geneLabel(gD,1972,'Uap1',562,646,954,1012);
geneLabel(gD,1972,'Slc29a2',672,792,954,1012);
geneLabel(gD,1972,'Slc29a1',323,443,1052,1110);
geneLabel(gD,1972,'Pgm3',468,558,1053,1111);
geneLabel(gD,1972,'Ctps',601,681,1056,1116);
geneLabel(gD,1972,'Upp1',727,815,1052,1110);
geneLabel(gD,1972,'Slc28a3',242,360,1150,1210);
geneLabel(gD,1972,'Cad',386,456,1150,1210);
geneLabel(gD,1972,'Ugp2',537,625,1158,1216);
geneLabel(gD,1972,'Slc29a4',630,748,1162,1220);
geneLabel(gD,1972,'Upp2',773,860,1152,1210);
geneLabel(gD,1972,'Ugdh',481,571,1195,1255);
geneLabel(gD,1972,'Umps',227,319,1250,1310);
geneLabel(gD,1972,'Rrm2',346,431,1252,1310);
geneLabel(gD,1972,'Gale',672,751,1260,1318);
geneLabel(gD,1972,'Gfpt1',863,954,1251,1310);
geneLabel(gD,1972,'Dhodh',162,267,1350,1408);
geneLabel(gD,1972,'Uck1',271,354,1350,1408);
geneLabel(gD,1972,'Uck2',380,462,1350,1408);
geneLabel(gD,1972,'Galt',574,646,1350,1408);
geneLabel(gD,1972,'Slc29a3',756,875,1350,1408);

/* ---------- network F ---------- */
const gF = document.getElementById('panelF');
const nodeX = i => 2208 + 351 * Math.cos((-108 + 36 * i) * Math.PI / 180);
const nodeY = i => 3439 + 351 * Math.sin((-108 + 36 * i) * Math.PI / 180);
for (let a = 0; a < networkGenes.length; a++) {
  for (let b = a + 1; b < networkGenes.length; b++) {
    const e = mk('line', {x1:nodeX(a), y1:nodeY(a), x2:nodeX(b), y2:nodeY(b), stroke:'#000', 'stroke-width':b-a===5&&a===3?6:4.5}, gF);
    
    
  }
}
networkGenes.forEach((n, i) => {
  const x = nodeX(i), y = nodeY(i), s = 80;
  const d = mk('polygon', {points:`${x},${y-s} ${x+s},${y} ${x},${y+s} ${x-s},${y}`, fill:networkColors[i]}, gF);
  
  
  const t = mk('text', {x:x, y:y+16, 'text-anchor':'middle', 'font-size':44, fill:'#2a2222'}, gF, n);
  
  
});

/* ---------- enrichment bars G ---------- */
const gG = document.getElementById('panelG');
const xScaleG = v => 225.5 + 54.4 * v;
const barTop = i => 4007 + i * 61.5;
goGrid.forEach(v => {
  const l = mk('line', {x1:xScaleG(v), x2:xScaleG(v), y1:3970, y2:4338, stroke:'#bbb', 'stroke-width':5}, gG);
  
  
});
goValues.forEach((v, i) => {
  const b = mk('rect', {x:xScaleG(0), y:barTop(i), width:xScaleG(v)-xScaleG(0), height:48.5, fill:goColors[i], stroke:'#666', 'stroke-width':3.5}, gG);
  
  
  const t = mk('text', {x:1628, y:barTop(i)+25+14, 'font-size':40, fill:'#222', class:'dj', textLength:goLabelWidths[i], lengthAdjust:'spacingAndGlyphs'}, gG, goTerms[i]);
  
  
});
const frameG = mk('rect', {x:225.5, y:3970, width:1386, height:368, fill:'none', stroke:'#000', 'stroke-width':3}, gG);


goTicks.forEach(v => {
  const t = mk('line', {x1:xScaleG(v), x2:xScaleG(v), y1:4338, y2:4350, stroke:'#000', 'stroke-width':3}, gG);
  
  
  const l = mk('text', {x:xScaleG(v), y:4398, 'text-anchor':'middle', 'font-size':38, fill:'#111', class:'dj'}, gG, String(v));
  
  
});
const titleG = mk('text', {x:918, y:4454, 'text-anchor':'middle', 'font-size':38, fill:'#111', class:'dj', textLength:190, lengthAdjust:'spacingAndGlyphs'}, gG, '-log10(P)');



/* ---------- bar chart H ---------- */
const gH = document.getElementById('panelH');
const yScaleH = v => 3778 - 275.6 * v;
const barCenter = i => 3374.5 + i * 227;
hMeans.forEach((v, i) => {
  const cx = barCenter(i);
  const err = mk('line', {x1:cx, x2:cx, y1:yScaleH(v), y2:yScaleH(v + hErrors[i]), stroke:'#000', 'stroke-width':4}, gH);
  
  
  const cap = mk('line', {x1:cx-37, x2:cx+37, y1:yScaleH(v + hErrors[i]), y2:yScaleH(v + hErrors[i]), stroke:'#000', 'stroke-width':4}, gH);
  
  
  const b = mk('rect', {x:cx-71, y:yScaleH(v), width:142, height:yScaleH(0)-yScaleH(v), fill:hColors[i], stroke:'#000', 'stroke-width':9}, gH);
  
  
  const t = mk('line', {x1:cx-3, x2:cx-3, y1:3778, y2:3805, stroke:'#000', 'stroke-width':6}, gH);
  
  
  const l = mk('text', {x:cx-3, y:3862, 'text-anchor':'middle', 'font-size':58, 'font-weight':'bold', fill:'#111'}, gH, hCategories[i]);
  
  
});
const axisY = mk('line', {x1:3224, x2:3224, y1:3086, y2:3781, stroke:'#000', 'stroke-width':6}, gH);


const axisX = mk('line', {x1:3221, x2:3755, y1:3778, y2:3778, stroke:'#000', 'stroke-width':6}, gH);


hTicks.forEach(v => {
  const t = mk('line', {x1:3188, x2:3224, y1:yScaleH(+v), y2:yScaleH(+v), stroke:'#000', 'stroke-width':6}, gH);
  
  
  const l = mk('text', {x:3178, y:yScaleH(+v)+19, 'text-anchor':'end', 'font-size':54, 'font-weight':'bold', fill:'#111', textLength:80, lengthAdjust:'spacingAndGlyphs'}, gH, v);
  
  
});
const titleH1 = mk('text', {transform:'translate(2958,3432) rotate(-90)', 'text-anchor':'middle', 'font-size':58, 'font-weight':'bold', fill:'#111', textLength:643, lengthAdjust:'spacingAndGlyphs'}, gH, 'UPP1 mRNA expression');


const titleH2 = mk('text', {transform:'translate(3036,3433) rotate(-90)', 'text-anchor':'middle', 'font-size':58, 'font-weight':'bold', fill:'#111', style:'font-family:"Liberation Sans","Noto Sans CJK SC",sans-serif'}, gH, '（Fold change）');


const bracket = mk('path', {d:'M3380 3111V3094H3596V3111', fill:'none', stroke:'#000', 'stroke-width':4}, gH);


const stars = mk('text', {x:3480, y:3082, 'text-anchor':'middle', 'font-size':58, 'font-weight':'bold', fill:'#111'}, gH, '***');


</script>
</body>
</html>
